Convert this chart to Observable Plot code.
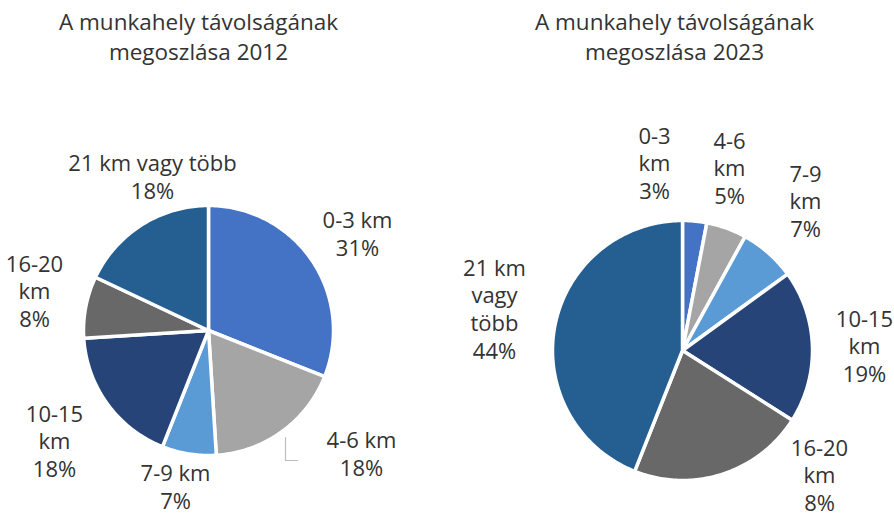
<!DOCTYPE html>
<html>
<head>
<meta charset="utf-8">
<script src="https://cdn.jsdelivr.net/npm/d3@7"></script>
<script src="https://cdn.jsdelivr.net/npm/@observablehq/plot@0.6"></script>
<style>
  html, body { margin: 0; padding: 0; background: #fff; }
  svg { display: block; }
</style>
</head>
<body>
<div id="chart"></div>
<script>
// ---- data ----
const categories = ["0-3 km", "4-6 km", "7-9 km", "10-15 km", "16-20 km", "21 km vagy több"];
const values2012 = [31, 18, 7, 18, 8, 18];
const values2023 = [3, 5, 7, 19, 22, 44];           // slice sizes
const labels2012 = ["0-3 km\n31%", "4-6 km\n18%", "7-9 km\n7%", "10-15\nkm\n18%", "16-20\nkm\n8%", "21 km vagy több\n18%"];
const labels2023 = ["0-3\nkm\n3%", "4-6\nkm\n5%", "7-9\nkm\n7%", "10-15\nkm\n19%", "16-20\nkm\n8%", "21 km\nvagy\ntöbb\n44%"];
const titles = ["A munkahely távolságának\nmegoszlása 2012", "A munkahely távolságának\nmegoszlása 2023"];
const colors = ["#4472C4", "#A5A5A5", "#5B9BD5", "#264478", "#686868", "#255E91"];

// ---- layout ----
const W = 894, H = 519;
const pies = [
  {cx: 208, cy: 330, r: 125, values: values2012, labels: labels2012,
   labelPos: [[357, 233], [361, 453], [175, 486], [54, 440], [34, 290], [152, 176]],
   title: titles[0], titlePos: [198, 35]},
  {cx: 682, cy: 350, r: 130, values: values2023, labels: labels2023,
   labelPos: [[654, 162], [729, 167], [805, 200], [864, 345], [819, 474], [494, 308]],
   title: titles[1], titlePos: [674, 35]}
];

const slices = [];
const labelRows = [];
const titleRows = [];
pies.forEach((p, pi) => {
  const arcs = d3.pie().sort(null).value(d => d)(p.values);
  arcs.forEach((a, i) => {
    const id = pi + "-" + i;
    slices.push({id, cat: categories[i], x: p.cx, y: p.cy});
    const n = Math.max(2, Math.ceil((a.endAngle - a.startAngle) / (Math.PI / 180)));
    for (let k = 0; k <= n; k++) {
      const t = a.startAngle + (a.endAngle - a.startAngle) * k / n;
      slices.push({id, cat: categories[i], x: p.cx + p.r * Math.sin(t), y: p.cy - p.r * Math.cos(t)});
    }
    labelRows.push({x: p.labelPos[i][0], y: p.labelPos[i][1], text: p.labels[i]});
  });
  titleRows.push({x: p.titlePos[0], y: p.titlePos[1], text: p.title});
});

const leader = [{x: 285, y: 437}, {x: 285, y: 460}, {x: 297, y: 460}];

const chart = Plot.plot({
  width: W,
  height: H,
  margin: 0,
  x: {domain: [0, W], range: [0, W], axis: null},
  y: {domain: [0, H], range: [0, H], axis: null},
  color: {domain: categories, range: colors},
  style: {background: "#fff"},
  marks: [
    Plot.line(slices, {x: "x", y: "y", z: "id", fill: "cat", stroke: "#fff", strokeWidth: 3.5,
      strokeLinejoin: "round", curve: "linear-closed"}),
    Plot.line(leader, {x: "x", y: "y", stroke: "#bdbdbd", strokeWidth: 1.2}),
    Plot.text(labelRows, {x: "x", y: "y", text: "text", fontSize: 22, lineHeight: 1.27,
      fill: "#333", fontFamily: "Open Sans"}),
    Plot.text(titleRows, {x: "x", y: "y", text: "text", fontSize: 22.5, lineHeight: 1.3,
      fill: "#333", fontFamily: "Open Sans"})
  ]
});
document.getElementById("chart").appendChild(chart);
</script>
</body>
</html>
